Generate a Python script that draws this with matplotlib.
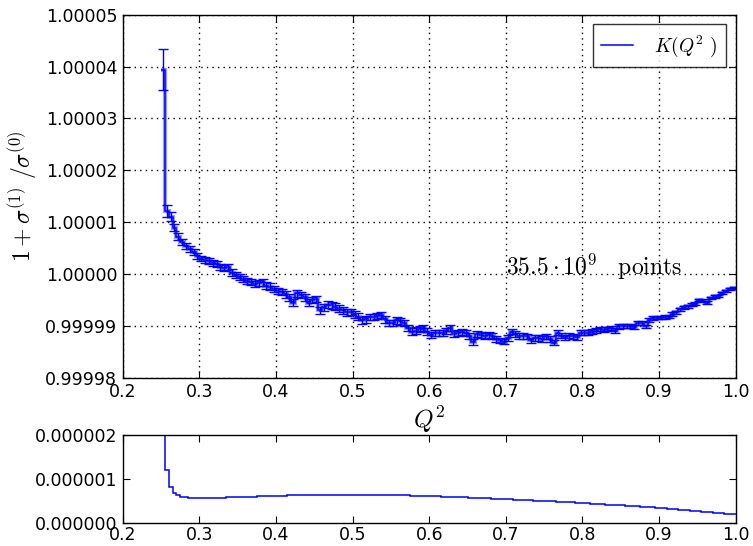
import numpy as np
import matplotlib
matplotlib.use('Agg')
import matplotlib.pyplot as plt
from matplotlib.ticker import FormatStrFormatter, MultipleLocator

plt.rcParams['mathtext.fontset'] = 'cm'
plt.rcParams['font.family'] = ['DejaVu Sans']

# 直方图分箱
q_lo, q_hi, nbins = 0.25, 1.0, 150
edges = np.linspace(q_lo, q_hi, nbins + 1)

# (1 + sigma1/sigma0 - 1) * 1e5, 从图上读的
ratio_off = [
    3.94, 1.22, 1.11, 0.89, 0.72, 0.62, 0.55, 0.48, 0.42, 0.35,
    0.30, 0.28, 0.25, 0.22, 0.19, 0.14, 0.11, 0.14, 0.03, -0.02,
    -0.05, -0.09, -0.13, -0.15, -0.19, -0.17, -0.16, -0.22, -0.24, -0.29,
    -0.33, -0.35, -0.39, -0.45, -0.55, -0.37, -0.40, -0.45, -0.55, -0.50,
    -0.48, -0.70, -0.64, -0.59, -0.60, -0.63, -0.67, -0.70, -0.74, -0.73,
    -0.78, -0.82, -0.89, -0.87, -0.83, -0.83, -0.81, -0.79, -0.87, -0.94,
    -0.94, -0.89, -0.91, -0.94, -1.04, -1.11, -1.09, -1.06, -1.04, -1.11,
    -1.17, -1.14, -1.13, -1.13, -1.09, -1.04, -1.15, -1.13, -1.11, -1.14,
    -1.19, -1.30, -1.15, -1.17, -1.19, -1.17, -1.20, -1.25, -1.28, -1.30,
    -1.23, -1.11, -1.15, -1.19, -1.19, -1.20, -1.28, -1.23, -1.23, -1.25,
    -1.20, -1.25, -1.32, -1.13, -1.19, -1.22, -1.19, -1.20, -1.22, -1.13,
    -1.13, -1.13, -1.11, -1.09, -1.06, -1.07, -1.06, -1.04, -1.09, -1.01,
    -1.00, -1.00, -1.01, -1.02, -0.95, -0.94, -1.01, -0.88, -0.85, -0.84,
    -0.84, -0.83, -0.82, -0.77, -0.74, -0.68, -0.64, -0.62, -0.59, -0.57,
    -0.50, -0.51, -0.55, -0.46, -0.43, -0.42, -0.37, -0.32, -0.28, -0.27,
]

# 误差 (单位 1e-6), 下面小图画的就是它
err_e6 = [
    3.90, 1.20, 0.81, 0.68, 0.63, 0.600, 0.585, 0.577, 0.572, 0.570,
    0.569, 0.569, 0.570, 0.572, 0.574, 0.577, 0.580, 0.583, 0.586, 0.589,
    0.592, 0.595, 0.598, 0.601, 0.604, 0.607, 0.610, 0.613, 0.616, 0.619,
    0.622, 0.624, 0.626, 0.628, 0.630, 0.632, 0.634, 0.636, 0.637, 0.638,
    0.639, 0.640, 0.641, 0.642, 0.643, 0.644, 0.645, 0.645, 0.646, 0.646,
    0.646, 0.646, 0.645, 0.645, 0.644, 0.643, 0.642, 0.641, 0.640, 0.638,
    0.637, 0.635, 0.633, 0.631, 0.629, 0.627, 0.624, 0.621, 0.618, 0.615,
    0.612, 0.609, 0.606, 0.603, 0.600, 0.597, 0.594, 0.591, 0.587, 0.583,
    0.580, 0.576, 0.572, 0.568, 0.564, 0.560, 0.556, 0.552, 0.548, 0.544,
    0.545, 0.540, 0.536, 0.531, 0.527, 0.522, 0.518, 0.513, 0.509, 0.504,
    0.500, 0.496, 0.491, 0.487, 0.482, 0.478, 0.473, 0.469, 0.464, 0.460,
    0.455, 0.449, 0.444, 0.438, 0.433, 0.427, 0.422, 0.416, 0.411, 0.405,
    0.400, 0.394, 0.389, 0.383, 0.378, 0.372, 0.367, 0.361, 0.356, 0.350,
    0.343, 0.335, 0.328, 0.320, 0.313, 0.305, 0.298, 0.290, 0.283, 0.275,
    0.268, 0.260, 0.253, 0.245, 0.238, 0.230, 0.223, 0.215, 0.208, 0.195,
]

ratio = 1 + np.array(ratio_off) * 1e-5
err = np.array(err_e6) * 1e-6
centers = 0.5 * (edges[:-1] + edges[1:])

fig = plt.figure(figsize=(7.53, 5.46), dpi=100)
ax1 = fig.add_axes([0.163, 0.308, 0.814, 0.665])
ax2 = fig.add_axes([0.163, 0.042, 0.814, 0.161])

# 上图: 阶梯 + 误差棒
ax1.stairs(ratio, edges, baseline=None, color='b', lw=3, alpha=0.4)
ax1.stairs(ratio, edges, baseline=None, color='b', lw=1.1, label=r'$K(Q^2\ )$')
ax1.errorbar(centers, ratio, yerr=err, fmt='none', ecolor='b', elinewidth=1,
             capsize=3.5, capthick=1)
ax1.set_xlim(0.2, 1.0)
ax1.set_ylim(0.99998, 1.00005)
ax1.yaxis.set_major_locator(MultipleLocator(1e-5))
ax1.yaxis.set_major_formatter(FormatStrFormatter('%.5f'))
ax1.xaxis.set_major_locator(MultipleLocator(0.1))
ax1.xaxis.set_major_formatter(FormatStrFormatter('%.1f'))
ax1.grid(True, color='k', linestyle=(0, (1, 3)), linewidth=1)
ax1.set_xlabel(r'$Q^2$', fontsize=18, labelpad=2)
ax1.set_ylabel(r'$1+\sigma^{(1)}\ /\sigma^{(0)}$', fontsize=17, labelpad=4)
ax1.text(0.7, 1.0000014, r'$35.5\cdot10^9\ \ \ \mathrm{points}$', fontsize=17,
         va='center', ha='left')
leg = ax1.legend(loc='upper right', fontsize=14, fancybox=False,
                 handlelength=1.6, borderpad=0.45, handletextpad=1.1)
leg.get_frame().set_edgecolor('k')
leg.get_frame().set_linewidth(1)

# 下图: 误差
ax2.stairs(err, edges, baseline=None, color='b', lw=1.1)
ax2.set_xlim(0.2, 1.0)
ax2.set_ylim(0, 2e-6)
ax2.yaxis.set_major_locator(MultipleLocator(1e-6))
ax2.yaxis.set_major_formatter(FormatStrFormatter('%.6f'))
ax2.xaxis.set_major_locator(MultipleLocator(0.1))
ax2.xaxis.set_major_formatter(FormatStrFormatter('%.1f'))

for ax in (ax1, ax2):
    ax.tick_params(direction='in', top=True, right=True, length=5,
                   labelsize=12.5, pad=4)
    for s in ax.spines.values():
        s.set_linewidth(1)
ax2.tick_params(axis='x', pad=2)

fig.savefig('out.png', dpi=100)
